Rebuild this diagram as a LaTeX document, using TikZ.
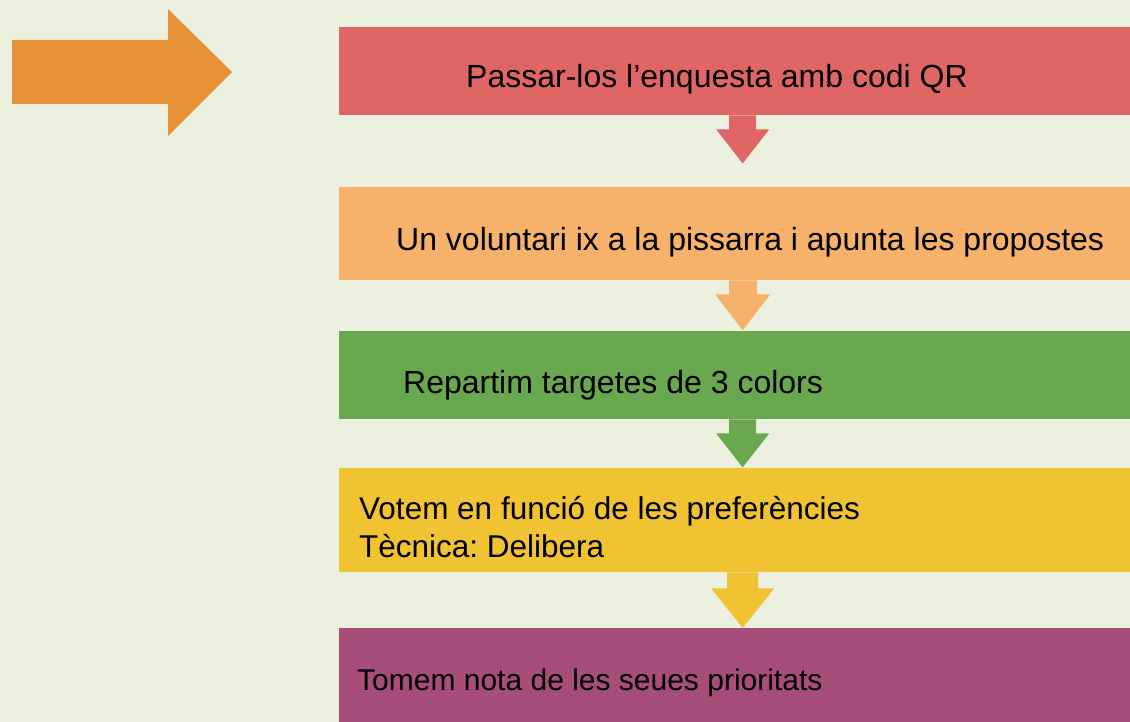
\documentclass[tikz,border=0pt]{standalone}
\usepackage{fontspec}
\setmainfont{Liberation Sans}
\usetikzlibrary{calc}
\frenchspacing
\definecolor{bgc}{HTML}{EBF1DE}
\definecolor{redc}{HTML}{E06666}
\definecolor{orgc}{HTML}{F6B26B}
\definecolor{grnc}{HTML}{6AA84F}
\definecolor{yelc}{HTML}{F1C232}
\definecolor{purc}{HTML}{A64D79}
\definecolor{bigc}{HTML}{E69138}
\tikzset{
  box/.style={rectangle, draw=none, anchor=north west, inner sep=0pt, minimum width=791pt},
  lbl/.style={anchor=base west, inner sep=0pt, font=\fontsize{32}{38}\selectfont, text=black, align=left},
}
\begin{document}
\begin{tikzpicture}[x=1pt,y=-1pt]
\fill[bgc] (0,0) rectangle (1130,722);
\useasboundingbox (0,0) rectangle (1130,722);
% big arrow
\fill[bigc] (12,40) -- (168,40) -- (168,9) -- (232,72) -- (168,136) -- (168,104) -- (12,104) -- cycle;
% boxes
\node[box, fill=redc, minimum height=88pt] (b1) at (339,27) {};
\node[box, fill=orgc, minimum height=93pt] (b2) at (339,187) {};
\node[box, fill=grnc, minimum height=88pt] (b3) at (339,331) {};
\node[box, fill=yelc, minimum height=104pt] (b4) at (339,468) {};
\node[box, fill=purc, minimum height=94pt] (b5) at (339,628) {};
% labels
\node[lbl] (t1) at (466,88) {Passar-los l’enquesta amb codi QR};
\node[lbl] (t2) at (396,251) {Un voluntari ix a la pissarra i apunta les propostes};
\node[lbl] (t3) at (403,393) {Repartim targetes de 3 colors};
\node[lbl, font=\fontsize{31.5}{38}\selectfont] (t4a) at (359,519) {Votem en funció de les preferències};
\node[lbl, font=\fontsize{31.5}{38}\selectfont] (t4b) at (359,557) {Tècnica: Delibera};
\node[lbl, font=\fontsize{30}{38}\selectfont] (t5) at (357,690) {Tomem nota de les seues prioritats};
% connectors
\fill[redc] ($(b1.south)+(-5.5,0)$) -- ($(b1.south)+(21.5,0)$) -- ($(b1.south)+(21.5,14)$) -- ($(b1.south)+(34.5,14)$) -- ($(b1.south)+(8,48)$) -- ($(b1.south)+(-18.5,14)$) -- ($(b1.south)+(-5.5,14)$) -- cycle;
\fill[orgc] ($(b2.south)+(-5.5,0)$) -- ($(b2.south)+(22.5,0)$) -- ($(b2.south)+(22.5,14)$) -- ($(b2.south)+(35.5,14)$) -- ($(b2.south)+(8,50)$) -- ($(b2.south)+(-19.5,14)$) -- ($(b2.south)+(-5.5,14)$) -- cycle;
\fill[grnc] ($(b3.south)+(-5.5,0)$) -- ($(b3.south)+(21.5,0)$) -- ($(b3.south)+(21.5,14)$) -- ($(b3.south)+(34.5,14)$) -- ($(b3.south)+(8,48)$) -- ($(b3.south)+(-18.5,14)$) -- ($(b3.south)+(-5.5,14)$) -- cycle;
\fill[yelc] ($(b4.south)+(-7.5,0)$) -- ($(b4.south)+(23.5,0)$) -- ($(b4.south)+(23.5,16)$) -- ($(b4.south)+(39.5,16)$) -- ($(b5.north)+(8,0)$) -- ($(b4.south)+(-23.5,16)$) -- ($(b4.south)+(-7.5,16)$) -- cycle;
\end{tikzpicture}
\end{document}
